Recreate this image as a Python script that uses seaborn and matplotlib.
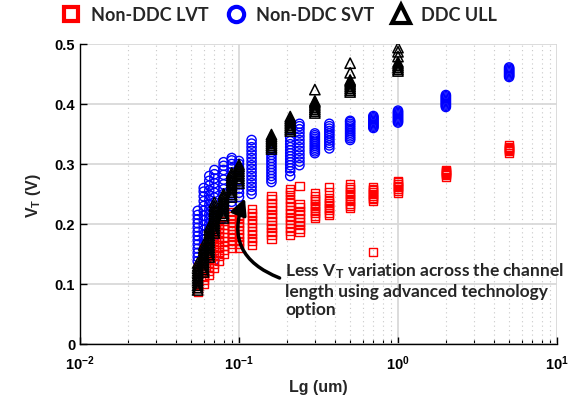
import matplotlib
matplotlib.use('Agg')
import matplotlib.pyplot as plt
import pandas as pd
import seaborn as sns
from matplotlib.lines import Line2D
from matplotlib.ticker import FixedLocator, LogLocator, NullFormatter, FixedFormatter

# ---------------- data ----------------
lg_lvt = [0.055, 0.06, 0.065, 0.07, 0.075, 0.08, 0.09, 0.1, 0.12, 0.16, 0.21, 0.24,
          0.3, 0.37, 0.5, 0.7, 1.0, 2.0, 5.0]
vt_lvt = [
    [0.087, 0.093, 0.098, 0.104, 0.110, 0.116, 0.122, 0.128],
    [0.100, 0.106, 0.112, 0.118, 0.124, 0.130, 0.137, 0.144, 0.152, 0.160],
    [0.115, 0.121, 0.128, 0.135, 0.142, 0.150, 0.158, 0.166, 0.174],
    [0.126, 0.133, 0.140, 0.148, 0.156, 0.164, 0.172, 0.180, 0.188, 0.195],
    [0.138, 0.146, 0.154, 0.162, 0.170, 0.178, 0.186, 0.194, 0.200],
    [0.150, 0.157, 0.164, 0.171, 0.178, 0.185, 0.192, 0.199, 0.205],
    [0.160, 0.166, 0.172, 0.178, 0.184, 0.190, 0.196, 0.202, 0.208, 0.214, 0.220],
    [0.160, 0.166, 0.172, 0.178, 0.184, 0.190, 0.196, 0.202, 0.208, 0.214, 0.220],
    [0.165, 0.171, 0.177, 0.183, 0.189, 0.195, 0.201, 0.207, 0.213, 0.219, 0.225],
    [0.175, 0.181, 0.187, 0.193, 0.199, 0.205, 0.211, 0.217, 0.223, 0.229, 0.235, 0.241, 0.246],
    [0.182, 0.188, 0.194, 0.200, 0.206, 0.212, 0.218, 0.224, 0.230, 0.236, 0.242, 0.248, 0.253, 0.258],
    [0.186, 0.192, 0.198, 0.204, 0.210, 0.216, 0.222, 0.228, 0.233, 0.264],
    [0.210, 0.214, 0.218, 0.222, 0.226, 0.230, 0.234, 0.238, 0.242, 0.246, 0.251],
    [0.215, 0.219, 0.223, 0.227, 0.231, 0.235, 0.239, 0.243, 0.253, 0.262],
    [0.226, 0.230, 0.234, 0.238, 0.242, 0.246, 0.250, 0.254, 0.258, 0.262, 0.266],
    [0.153, 0.238, 0.241, 0.244, 0.247, 0.250, 0.253, 0.256, 0.259, 0.261],
    [0.252, 0.255, 0.258, 0.261, 0.264, 0.267, 0.270, 0.272],
    [0.279, 0.281, 0.283, 0.285, 0.287, 0.289, 0.290],
    [0.319, 0.321, 0.323, 0.325, 0.327, 0.329, 0.331],
]

lg_svt = [0.055, 0.06, 0.065, 0.07, 0.08, 0.09, 0.1, 0.12, 0.16, 0.21, 0.24,
          0.3, 0.37, 0.5, 0.7, 1.0, 2.0, 5.0]
vt_svt = [
    [0.138, 0.145, 0.152, 0.159, 0.166, 0.173, 0.180, 0.187, 0.194, 0.201, 0.208, 0.215, 0.222],
    [0.150, 0.158, 0.166, 0.174, 0.182, 0.190, 0.198, 0.206, 0.214, 0.222, 0.230, 0.238, 0.246, 0.254, 0.260],
    [0.168, 0.176, 0.184, 0.192, 0.200, 0.208, 0.216, 0.224, 0.232, 0.240, 0.248, 0.256, 0.264, 0.272, 0.280],
    [0.140, 0.180, 0.188, 0.196, 0.204, 0.212, 0.220, 0.228, 0.236, 0.244, 0.252, 0.260, 0.268, 0.276, 0.283, 0.290],
    [0.210, 0.218, 0.226, 0.234, 0.242, 0.250, 0.258, 0.266, 0.274, 0.282, 0.290, 0.297, 0.303],
    [0.230, 0.237, 0.244, 0.251, 0.258, 0.265, 0.272, 0.279, 0.286, 0.293, 0.300, 0.306, 0.310],
    [0.245, 0.252, 0.259, 0.266, 0.273, 0.280, 0.287, 0.294, 0.300, 0.305],
    [0.250, 0.256, 0.262, 0.268, 0.274, 0.280, 0.286, 0.292, 0.298, 0.304, 0.310, 0.316, 0.322, 0.328, 0.334, 0.340],
    [0.270, 0.275, 0.280, 0.285, 0.290, 0.295, 0.300, 0.305, 0.310, 0.315, 0.320, 0.324],
    [0.280, 0.288, 0.293, 0.298, 0.303, 0.308, 0.313, 0.318, 0.323, 0.328, 0.333, 0.338, 0.344],
    [0.298, 0.304, 0.310, 0.316, 0.322, 0.328, 0.334, 0.340, 0.346, 0.352, 0.358, 0.363, 0.367],
    [0.318, 0.321, 0.324, 0.327, 0.330, 0.333, 0.336, 0.339, 0.342, 0.345, 0.348, 0.351],
    [0.326, 0.331, 0.335, 0.339, 0.343, 0.347, 0.351, 0.355, 0.359, 0.363, 0.367],
    [0.340, 0.343, 0.346, 0.349, 0.352, 0.355, 0.358, 0.361, 0.364, 0.367, 0.370, 0.372],
    [0.360, 0.362, 0.364, 0.366, 0.368, 0.370, 0.372, 0.374, 0.376, 0.378, 0.380],
    [0.369, 0.371, 0.373, 0.375, 0.377, 0.379, 0.381, 0.383, 0.385, 0.387, 0.389],
    [0.395, 0.397, 0.399, 0.401, 0.403, 0.405, 0.407, 0.409, 0.411, 0.413, 0.415],
    [0.445, 0.447, 0.449, 0.451, 0.453, 0.455, 0.457, 0.459, 0.461],
]

lg_ull = [0.055, 0.06, 0.065, 0.07, 0.08, 0.09, 0.1, 0.16, 0.21, 0.3, 0.5, 1.0]
vt_ull = [
    [0.090, 0.094, 0.098, 0.102, 0.106, 0.110, 0.114, 0.118, 0.122, 0.126, 0.130, 0.135],
    [0.120, 0.124, 0.128, 0.132, 0.136, 0.140, 0.144, 0.148, 0.152, 0.156, 0.160, 0.165],
    [0.145, 0.149, 0.153, 0.157, 0.161, 0.165, 0.169, 0.173, 0.177, 0.181, 0.185, 0.190, 0.195],
    [0.185, 0.189, 0.193, 0.197, 0.201, 0.205, 0.209, 0.213, 0.217, 0.221, 0.225, 0.230, 0.236],
    [0.210, 0.214, 0.218, 0.222, 0.226, 0.230, 0.234, 0.238, 0.242, 0.246, 0.250],
    [0.245, 0.249, 0.253, 0.257, 0.261, 0.265, 0.269, 0.273, 0.277, 0.281, 0.285],
    [0.268, 0.272, 0.276, 0.280, 0.284, 0.288, 0.292, 0.296, 0.299],
    [0.325, 0.328, 0.331, 0.334, 0.337, 0.340, 0.343, 0.346, 0.349],
    [0.355, 0.358, 0.361, 0.364, 0.367, 0.370, 0.373, 0.376, 0.379],
    [0.385, 0.388, 0.391, 0.394, 0.397, 0.400, 0.403, 0.405, 0.424],
    [0.420, 0.423, 0.426, 0.429, 0.432, 0.435, 0.438, 0.440, 0.452, 0.468],
    [0.455, 0.458, 0.461, 0.464, 0.467, 0.470, 0.479, 0.487, 0.494],
]

series_names = ['Non-DDC LVT', 'Non-DDC SVT', 'DDC ULL']
x_ticks = [0.01, 0.1, 1, 10]
x_ticklabels = [r'$10^{-2}$', r'$10^{-1}$', r'$10^{0}$', r'$10^{1}$']
y_ticks = [0, 0.1, 0.2, 0.3, 0.4, 0.5]
y_ticklabels = ['0', '0.1', '0.2', '0.3', '0.4', '0.5']

# ---------------- style ----------------
sns.set_style('ticks')
plt.rcParams['font.family'] = ['Liberation Sans', 'DejaVu Sans']
plt.rcParams['mathtext.fontset'] = 'custom'
for k in ('rm', 'it', 'bf', 'sf'):
    plt.rcParams['mathtext.' + k] = 'Liberation Sans:bold'


def to_long(name, lgs, vts):
    rows = []
    for x, vs in zip(lgs, vts):
        for v in vs:
            rows.append((name, x, v))
    return rows


df = pd.DataFrame(
    to_long(series_names[0], lg_lvt, vt_lvt)
    + to_long(series_names[1], lg_svt, vt_svt)
    + to_long(series_names[2], lg_ull, vt_ull),
    columns=['series', 'Lg', 'VT'])

fig = plt.figure(figsize=(5.8, 4.06), dpi=100)
ax = fig.add_axes([80 / 580, 1 - 345 / 406, (557 - 80) / 580, 300 / 406])

styles = {
    'Non-DDC SVT': dict(marker='o', color='#0000ff', s=44, lw=1.0),
    'Non-DDC LVT': dict(marker='s', color='#ff0000', s=34, lw=1.0),
    'DDC ULL': dict(marker='^', color='#000000', s=55, lw=1.1),
}
for i, name in enumerate(['Non-DDC SVT', 'Non-DDC LVT', 'DDC ULL']):
    st = styles[name]
    n_before = len(ax.collections)
    sns.scatterplot(data=df[df.series == name], x='Lg', y='VT', marker=st['marker'],
                    s=st['s'], ax=ax, legend=False, linewidth=st['lw'], zorder=3 + i)
    for coll in ax.collections[n_before:]:
        coll.set_facecolor('none')
        coll.set_edgecolor(st['color'])
        coll.set_linewidth(st['lw'])

ax.set_xscale('log')
ax.set_xlim(0.01, 10)
ax.set_ylim(0, 0.5)

ax.xaxis.set_major_locator(FixedLocator(x_ticks))
ax.xaxis.set_major_formatter(FixedFormatter(x_ticklabels))
ax.xaxis.set_minor_locator(LogLocator(base=10, subs=range(2, 10)))
ax.xaxis.set_minor_formatter(NullFormatter())
ax.yaxis.set_major_locator(FixedLocator(y_ticks))
ax.yaxis.set_major_formatter(FixedFormatter(y_ticklabels))

ax.set_axisbelow(True)
ax.grid(which='major', color='#d9d9d9', lw=1.3, ls='-')
ax.grid(which='minor', axis='x', color='#c8c8c8', lw=0.8, ls=(0, (1, 3)))

for sp in ('top', 'right'):
    ax.spines[sp].set_visible(False)
for sp in ('left', 'bottom'):
    ax.spines[sp].set_color('black')
    ax.spines[sp].set_linewidth(1.0)

ax.tick_params(which='major', direction='in', length=5, width=1, colors='black',
               labelsize=10.5)
ax.tick_params(which='minor', direction='in', length=3, width=0.8, colors='black')
ax.tick_params(axis='x', pad=7)
for lab in ax.get_yticklabels() + ax.get_xticklabels():
    lab.set_fontweight('bold')

ax.set_xlabel('Lg (um)', fontsize=11.5, fontweight='bold', labelpad=5)
ax.set_ylabel(r'V$_{T}$ (V)', fontsize=11.5, fontweight='bold', labelpad=8)

# annotation arrow + text
ax.annotate('', xy=(0.109, 0.243), xytext=(0.18, 0.11),
            arrowprops=dict(arrowstyle='-|>', color='black', lw=2.5,
                            mutation_scale=24, shrinkA=0, shrinkB=0,
                            connectionstyle='arc3,rad=-0.5'),
            zorder=10)
ax.text(0.195, 0.14,
        'Less V$_{\\mathrm{T}}$ variation across the channel\nlength using advanced technology\noption',
        family='Lato', fontweight='bold', fontsize=12.5, ha='left', va='top',
        linespacing=1.22, zorder=10)

# legend
handles = [
    Line2D([], [], ls='none', marker='s', markersize=10, markerfacecolor='none',
           markeredgecolor='#ff0000', markeredgewidth=3.0),
    Line2D([], [], ls='none', marker='o', markersize=11, markerfacecolor='none',
           markeredgecolor='#0000ff', markeredgewidth=3.0),
    Line2D([], [], ls='none', marker='^', markersize=13, markerfacecolor='none',
           markeredgecolor='#000000', markeredgewidth=3.0),
]
fig.legend(handles, series_names, loc='center', bbox_to_anchor=(0.482, 0.962),
           ncol=3, frameon=False, handletextpad=0.6, columnspacing=1.0,
           handlelength=1.0,
           prop={'family': 'Lato', 'weight': 'bold', 'size': 13})

fig.savefig('out.png', dpi=100)
